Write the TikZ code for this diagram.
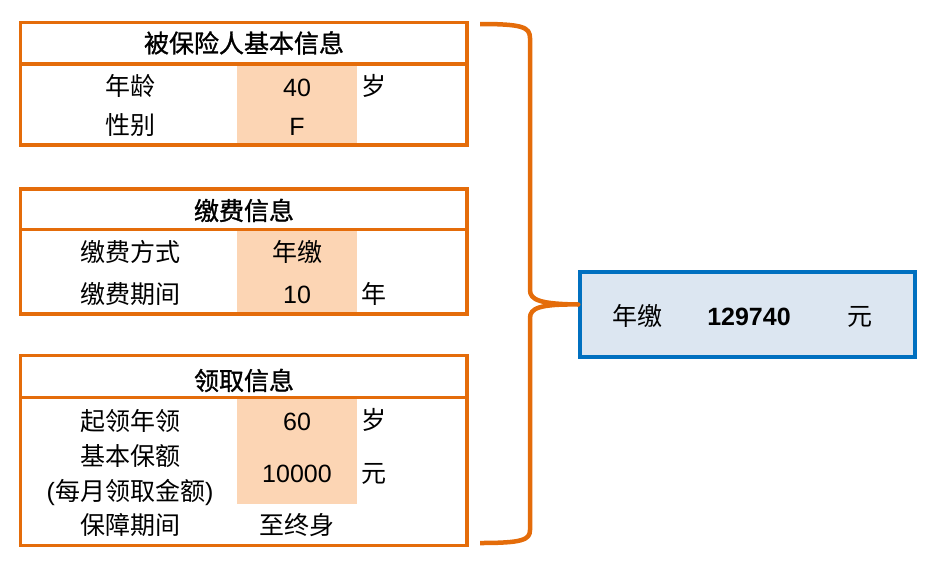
\documentclass[tikz,border=0pt]{standalone}
\usepackage{fontspec}
\setmainfont{Liberation Sans}
\newfontfamily\cjk{Noto Sans CJK SC}
\newfontfamily\cjkhead[FakeBold=1.2]{Noto Sans CJK SC}
\usetikzlibrary{positioning, calc}
\definecolor{frameorange}{RGB}{228,108,10}
\definecolor{cellpeach}{RGB}{252,213,180}
\definecolor{boxblue}{RGB}{0,112,192}
\definecolor{boxfill}{RGB}{220,230,241}
\tikzset{
  frame/.style={draw=frameorange, line width=3.5pt},
  cell/.style={fill=cellpeach},
  txt/.style={anchor=base, inner sep=0pt, font=\fontsize{25}{30}\selectfont},
  ctxt/.style={anchor=base, inner sep=0pt, font=\fontsize{25}{30}\selectfont\cjk},
  head/.style={anchor=base, inner sep=0pt, font=\fontsize{25}{30}\selectfont\cjkhead},
  unit/.style={ctxt, anchor=base west},
  resultbox/.style={draw=boxblue, fill=boxfill, line width=3.5pt, minimum width=335pt, minimum height=85pt, inner sep=0pt},
  brace/.style={draw=frameorange, line width=4.5pt, line join=round},
}

\begin{document}
\begin{tikzpicture}[x=1pt, y=-1pt]
      \useasboundingbox (0,0) rectangle (928,584);

      % peach value cells
      \fill[cell] (237,64) rectangle (357,145);
      \fill[cell] (237,229.5) rectangle (357,314);
      \fill[cell] (237,397.5) rectangle (357,504);

      % table frames: top / header line / bottom
      \foreach \top/\sep/\bot in {22.5/64/145, 189/229.5/314, 355.5/397.5/545.5} {
        \draw[frame] (20.5,\top) rectangle (467,\bot);
        \draw[frame] (20.5,\sep) -- (467,\sep);
      }

      % Insured person
      \node[head] (insHead) at (244,52.5) {被保险人基本信息};
      \node[ctxt] (ageLbl) at (130,95) {年龄};
      \node[txt] (ageVal) at (297,96) {40};
      \node[unit] (ageUnit) at (361,95) {岁};
      \node[ctxt] (sexLbl) at (130,134) {性别};
      \node[txt] (sexVal) at (297,135) {F};

      % Payment
      \node[head] (payHead) at (244,220) {缴费信息};
      \node[ctxt] (modeLbl) at (130,261) {缴费方式};
      \node[ctxt] (modeVal) at (297,261) {年缴};
      \node[ctxt] (termLbl) at (130,303) {缴费期间};
      \node[txt] (termVal) at (297,303) {10};
      \node[unit] (termUnit) at (361,303) {年};

      % Annuity
      \node[head] (annHead) at (244,390) {领取信息};
      \node[ctxt] (startLbl) at (130,430) {起领年领};
      \node[txt] (startVal) at (297,430) {60};
      \node[unit] (startUnit) at (361,429) {岁};
      \node[ctxt] (sumLbl) at (130,465) {基本保额};
      \node[txt] (sumNote) at (130,500) {({\cjk 每月领取金额})};
      \node[txt] (sumVal) at (297,482) {10000};
      \node[unit] (sumUnit) at (361,482) {元};
      \node[ctxt] (covLbl) at (130,534) {保障期间};
      \node[ctxt] (covVal) at (297,534) {至终身};

      % Result
      \node[resultbox] (result) at (747.5,314.5) {};
      \node[ctxt] (resMode) at (637,325) {年缴};
      \node[txt, font=\fontsize{25}{30}\selectfont\bfseries] (resVal) at (749,325) {129740};
      \node[ctxt] (resUnit) at (860,325) {元};

      % brace
      \coordinate (braceTop) at (480,24);
      \coordinate (braceBot) at (480,543);
      \coordinate (braceTip) at ([yshift=10pt]result.west);
      \draw[brace] (braceTop) .. controls (522,24) and (530,27) .. (530,38)
        -- (530,290) .. controls (530,300) and (540,304) .. (braceTip)
        .. controls (540,304) and (530,308) .. (530,318)
        -- (530,530) .. controls (530,540) and (522,543) .. (braceBot);
\end{tikzpicture}
\end{document}
